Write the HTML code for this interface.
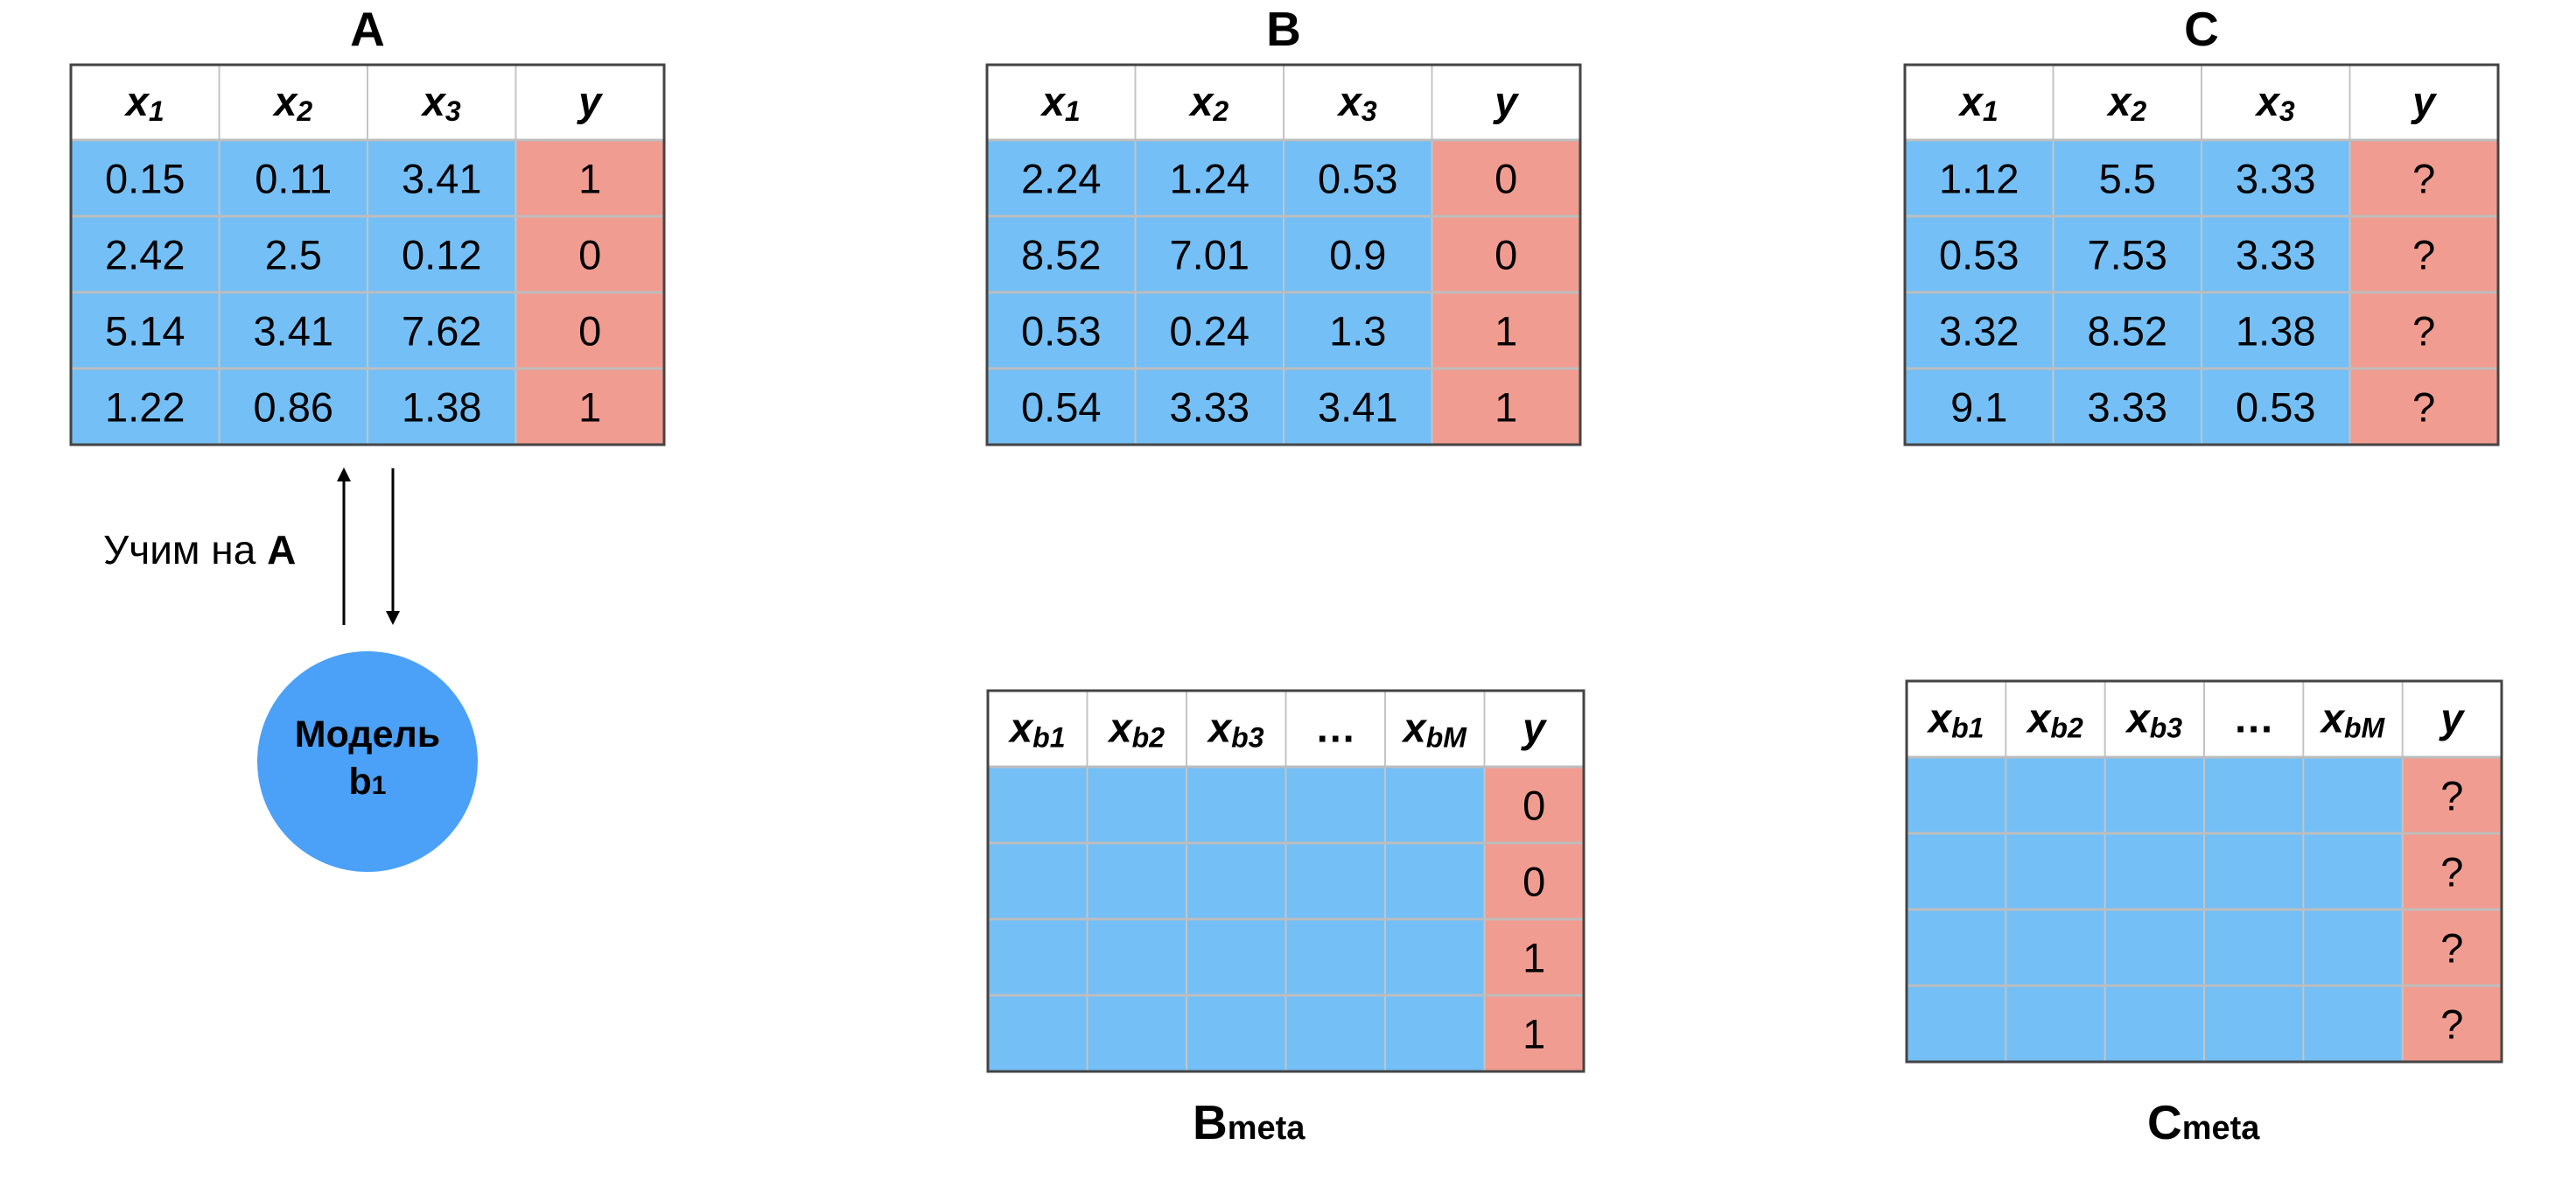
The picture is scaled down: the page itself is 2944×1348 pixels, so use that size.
<!DOCTYPE html>
<html><head><meta charset="utf-8">
<style>
html,body{margin:0;padding:0;background:#fff;}
svg{display:block;font-family:"Liberation Sans",sans-serif;}
</style></head>
<body>
<svg id="s" width="2944" height="1348" viewBox="0 0 2944 1348" xmlns="http://www.w3.org/2000/svg">
<text x="420" y="52" text-anchor="middle" font-size="55" font-weight="bold">A</text>
<text x="1467" y="52" text-anchor="middle" font-size="55" font-weight="bold">B</text>
<text x="2516" y="52" text-anchor="middle" font-size="55" font-weight="bold">C</text>
<g stroke="#000" stroke-width="3" fill="#000">
<line x1="393" y1="714" x2="393" y2="548"/>
<polygon points="385,550 401,550 393,534" stroke="none"/>
<line x1="449" y1="535" x2="449" y2="700"/>
<polygon points="441,698 457,698 449,714" stroke="none"/>
</g>
<text x="118" y="644" font-size="46">Учим на <tspan font-weight="bold">A</tspan></text>
<circle cx="420" cy="870" r="126" fill="#4BA1F7"/>
<text x="420" y="853" text-anchor="middle" font-size="43" font-weight="bold">Модель</text>
<text x="420" y="907" text-anchor="middle" font-size="43" font-weight="bold">b<tspan font-size="30">1</tspan></text>
<text x="1363" y="1301" font-size="55" font-weight="bold">B<tspan font-size="38">meta</tspan></text>
<text x="2454" y="1301" font-size="55" font-weight="bold">C<tspan font-size="38">meta</tspan></text>
</svg>
<script>
const headA = [["x","1"],["x","2"],["x","3"],["y",""]];
const headM = [["x","b1"],["x","b2"],["x","b3"],["…",""],["x","bM"],["y",""]];
const tableA = [["0.15","0.11","3.41","1"],["2.42","2.5","0.12","0"],["5.14","3.41","7.62","0"],["1.22","0.86","1.38","1"]];
const tableB = [["2.24","1.24","0.53","0"],["8.52","7.01","0.9","0"],["0.53","0.24","1.3","1"],["0.54","3.33","3.41","1"]];
const tableC = [["1.12","5.5","3.33","?"],["0.53","7.53","3.33","?"],["3.32","8.52","1.38","?"],["9.1","3.33","0.53","?"]];
const metaB = [["","","","","","0"],["","","","","","0"],["","","","","","1"],["","","","","","1"]];
const metaC = [["","","","","","?"],["","","","","","?"],["","","","","","?"],["","","","","","?"]];
const NS="http://www.w3.org/2000/svg";
const svg=document.getElementById('s');
function mk(tag,attrs){const e=document.createElementNS(NS,tag);for(const k in attrs)e.setAttribute(k,attrs[k]);return e;}
function drawTable(name,x0,x1,yTop,yHead,yBot,head,rows){
  const g=mk('g',{});
  
  
  svg.appendChild(g);
  const nc=head.length, cw=(x1-x0)/nc, rh=(yBot-yHead)/rows.length;
  rows.forEach((r,ri)=>{r.forEach((v,ci)=>{
    const cell=mk('rect',{x:x0+ci*cw,y:yHead+ri*rh,width:cw,height:rh,fill:ci===nc-1?'#F19C90':'#74BFF6'});
    
    
    g.appendChild(cell);
    if(v!==''){
      const t=mk('text',{x:x0+(ci+0.5)*cw,y:yHead+(ri+0.5)*rh+17,'text-anchor':'middle','font-size':47});
      
      
      t.textContent=v;g.appendChild(t);
    }
  });});
  head.forEach((h,ci)=>{
    const t=mk('text',{x:x0+(ci+0.5)*cw,y:(yTop+yHead)/2+15,'text-anchor':'middle','font-size':47,'font-weight':'bold','font-style':h[0]==='…'?'normal':'italic'});
    
    
    t.textContent=h[0];
    if(h[1]){const s=mk('tspan',{'font-size':32,dy:6});s.textContent=h[1];t.appendChild(s);}
    g.appendChild(t);
  });
  for(let ci=1;ci<nc;ci++)g.appendChild(mk('line',{x1:x0+ci*cw,x2:x0+ci*cw,y1:yTop,y2:yBot,stroke:'#C4C4C4','stroke-width':2}));
  for(let ri=0;ri<=rows.length;ri++)g.appendChild(mk('line',{x1:x0,x2:x1,y1:yHead+ri*rh,y2:yHead+ri*rh,stroke:'#BDBDBD','stroke-width':3}));
  g.appendChild(mk('rect',{x:x0,y:yTop,width:x1-x0,height:yBot-yTop,fill:'none',stroke:'#444','stroke-width':3}));
}
drawTable('table-a',81,759,74,160,508,headA,tableA);
drawTable('table-b',1128,1806,74,160,508,headA,tableB);
drawTable('table-c',2177,2855,74,160,508,headA,tableC);
drawTable('table-b-meta',1129,1810,789,876,1224,headM,metaB);
drawTable('table-c-meta',2179,2859,778,865,1213,headM,metaC);
</script>
</body></html>
